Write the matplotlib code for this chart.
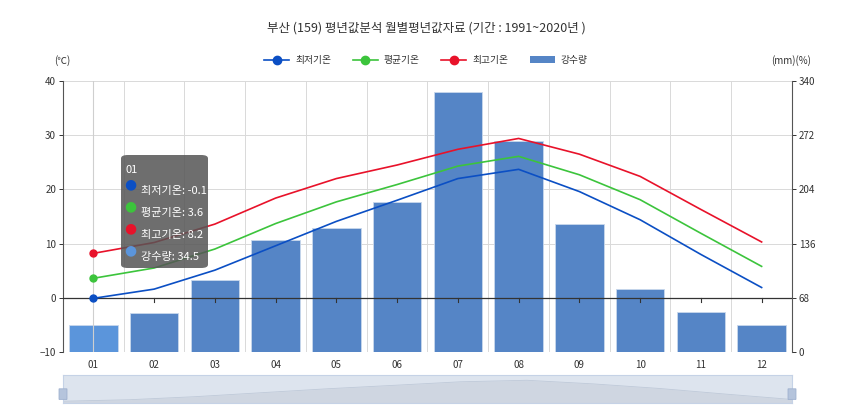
import matplotlib
matplotlib.use("Agg")
import matplotlib.pyplot as plt
from matplotlib.lines import Line2D
from matplotlib.patches import FancyBboxPatch, Patch

plt.rcParams["font.family"] = ["Noto Sans CJK KR", "DejaVu Sans"]

# Busan (159) monthly normals, 1991-2020
months = ["01", "02", "03", "04", "05", "06", "07", "08", "09", "10", "11", "12"]
temp_min = [-0.1, 1.6, 5.1, 9.6, 14.1, 18.0, 22.0, 23.7, 19.6, 14.4, 8.0, 1.9]
temp_avg = [3.6, 5.5, 9.0, 13.7, 17.7, 20.9, 24.3, 26.1, 22.7, 18.1, 11.9, 5.8]
temp_max = [8.2, 10.2, 13.6, 18.4, 22.0, 24.5, 27.4, 29.4, 26.5, 22.4, 16.3, 10.3]
precip = [34.5, 48.8, 90.0, 140.0, 155.6, 188.0, 326.0, 265.0, 161.0, 79.0, 50.0, 34.0]

title = "부산 (159) 평년값분석 월별평년값자료 (기간 : 1991~2020년 )"
left_ticks = [-10, 0, 10, 20, 30, 40]
right_ticks = [0, 68, 136, 204, 272, 340]

C_MIN, C_AVG, C_MAX = "#0b4fc4", "#3cc43c", "#e8122a"
C_BAR, C_BAR_HI = "#5585c6", "#5b95db"
GRID = "#d9d9d9"
TXT = "#333333"

fig = plt.figure(figsize=(8.5, 4.17), dpi=100)
ax = fig.add_axes([63 / 850, 1 - 352 / 417, 729 / 850, 271 / 417])
ax2 = ax.twinx()
ax.set_zorder(ax2.get_zorder() + 1)
ax.patch.set_visible(False)

x = list(range(len(months)))

# precipitation bars on the right axis
colors = [C_BAR_HI] + [C_BAR] * (len(months) - 1)
ax2.bar(x, precip, width=0.8, color=colors, edgecolor="#c9d8ec", linewidth=0.6, zorder=2)
ax2.set_ylim(0, 340)
ax2.set_yticks(right_ticks)

# temperature lines on the left axis
ax.plot(x, temp_min, color=C_MIN, lw=1.2, zorder=4)
ax.plot(x, temp_avg, color=C_AVG, lw=1.2, zorder=4)
ax.plot(x, temp_max, color=C_MAX, lw=1.2, zorder=4)
for series, c in ((temp_min, C_MIN), (temp_avg, C_AVG), (temp_max, C_MAX)):
    ax.plot(x[0], series[0], "o", color=c, ms=5, zorder=5)
ax.set_ylim(-10, 40)
ax.set_xlim(-0.5, len(months) - 0.5)
ax.set_yticks(left_ticks)

# grid: horizontal on the value ticks, vertical on category boundaries
for v in left_ticks:
    ax2.axhline((v + 10) * 340 / 50, color=GRID, lw=0.7, zorder=0)
for b in range(len(months) + 1):
    ax2.axvline(b - 0.5, color=GRID, lw=0.7, zorder=0)
ax.axvline(0, color="#cfcfcf", lw=0.8, zorder=1)  # hover pointer on Jan
ax.axhline(0, color="#333333", lw=0.9, zorder=3)
ax.set_xticks(x)
ax.set_xticklabels(months)
ax.tick_params(axis="x", length=0, pad=6, labelsize=7, colors=TXT)
for xi in x[1:]:
    ax.plot([xi, xi], [0, -0.8], color="#333333", lw=0.8, zorder=3)

for a in (ax, ax2):
    for s in a.spines.values():
        s.set_visible(False)
ax.spines["left"].set_visible(True)
ax.spines["left"].set_color("#555555")
ax2.spines["right"].set_visible(True)
ax2.spines["right"].set_color("#555555")
ax.tick_params(axis="y", labelsize=7, colors=TXT, length=3, width=0.7, pad=2)
ax2.tick_params(axis="y", labelsize=7, colors=TXT, length=3, width=0.7, pad=2)

# title, units, legend
fig.text(426 / 850, 1 - 28 / 417, title, ha="center", va="center", fontsize=9, color=TXT)
fig.text(62 / 850, 1 - 61 / 417, "(℃)", ha="center", va="center", fontsize=7, color=TXT)
fig.text(791 / 850, 1 - 61 / 417, "(mm)(%)", ha="center", va="center", fontsize=7, color=TXT)
handles = [
    Line2D([], [], color=C_MIN, marker="o", ms=6, lw=1.2),
    Line2D([], [], color=C_AVG, marker="o", ms=6, lw=1.2),
    Line2D([], [], color=C_MAX, marker="o", ms=6, lw=1.2),
    Patch(facecolor=C_BAR, edgecolor="none"),
]
fig.legend(handles, ["최저기온", "평균기온", "최고기온", "강수량"], loc="center",
           bbox_to_anchor=(426 / 850, 1 - 60 / 417), ncol=4, frameon=False,
           fontsize=7, handlelength=2.6, columnspacing=2.2, handletextpad=0.6,
           labelcolor=TXT)

# tooltip for January
tip = FancyBboxPatch((121 / 850, 1 - 268 / 417), 87 / 850, 113 / 417,
                     boxstyle="round,pad=0,rounding_size=0.008",
                     transform=fig.transFigure, facecolor="#555555",
                     edgecolor="none", alpha=0.85, zorder=10)
fig.patches.append(tip)
fig.text(126 / 850, 1 - 170 / 417, months[0], color="white", fontsize=8,
         va="center", zorder=11)
tip_rows = [("최저기온", temp_min[0], C_MIN), ("평균기온", temp_avg[0], C_AVG),
            ("최고기온", temp_max[0], C_MAX), ("강수량", precip[0], C_BAR_HI)]
for i, (name, val, c) in enumerate(tip_rows):
    yy = 1 - (186 + i * 22) / 417
    fig.text(130 / 850, yy + 2 / 417, "●", color=c, fontsize=10, ha="center",
             va="center", zorder=11, family="DejaVu Sans")
    fig.text(141 / 850, yy - 5 / 417, f"{name}: {val}", color="white", fontsize=8,
             va="center", zorder=11)

# data zoom slider
sl = fig.add_axes([63 / 850, 1 - 403 / 417, 729 / 850, 28 / 417])
sl.set_xlim(0, len(months) - 1)
sl.set_ylim(min(temp_min) - 2, max(temp_min) + 6)
sl.fill_between(x, min(temp_min) - 2, temp_min, color="#cfd6e1", lw=0)
sl.plot(x, temp_min, color="#bfc9d8", lw=0.6)
sl.set_facecolor("#dde4ee")
sl.set_xticks([])
sl.set_yticks([])
for s in sl.spines.values():
    s.set_color("#c5d2e6")
    s.set_linewidth(0.8)
for hx in (0, len(months) - 1):
    sl.add_patch(FancyBboxPatch((hx - 0.06, 2.0), 0.12, 12.0,
                                boxstyle="round,pad=0,rounding_size=0.03",
                                facecolor="#b5c4dc", edgecolor="#9fb1cf",
                                lw=0.6, clip_on=False, zorder=5))

fig.savefig("out.png", dpi=100)
